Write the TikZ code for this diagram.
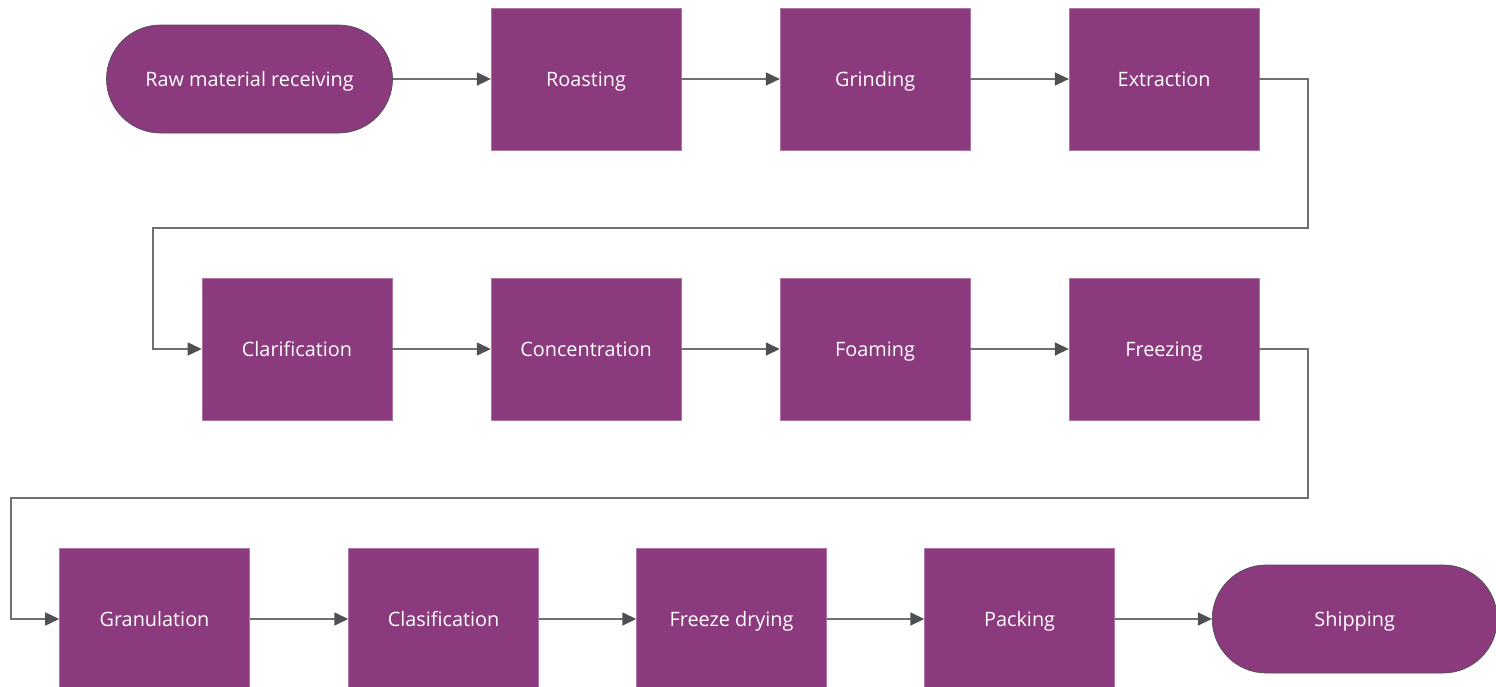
\documentclass[tikz,border=0pt]{standalone}
\usepackage{fontspec}
\setmainfont{Open Sans}
\usepackage{xcolor}
\usetikzlibrary{arrows.meta, positioning}
\definecolor{plum}{RGB}{140,58,126}
\definecolor{linegray}{RGB}{112,112,112}
\definecolor{tipgray}{RGB}{80,80,84}
\tikzstyle{terminal} = [rectangle, rounded corners=1.08cm, minimum width=5.72cm, minimum height=2.16cm, text centered, text height=1.85ex, text depth=0.35ex, draw=tipgray, fill=plum, text=white]
\tikzstyle{process} = [rectangle, minimum width=3.8cm, minimum height=2.84cm, text centered, text height=1.85ex, text depth=0.35ex, draw=plum!70!white, line width=0.3pt, fill=plum, text=white]
\tikzstyle{arrow} = [line width=0.9pt, draw=linegray, -{Triangle[length=0.28cm, width=0.26cm, color=tipgray, fill=tipgray]}]

\begin{document}
\begin{tikzpicture}[node distance=1.97cm, font=\fontsize{11.3}{13}\selectfont]
\useasboundingbox (0,0) rectangle (29.92,-13.74);

% First row
\node (receiving) [terminal] at (4.99,-1.58) {Raw material receiving};
\node (roasting) [process, right=1.96cm of receiving] {Roasting};
\node (grinding) [process, right=of roasting] {Grinding};
\node (extraction) [process, right=of grinding] {Extraction};

% Second row
\node (clarification) [process] at (5.94,-6.98) {Clarification};
\node (concentration) [process, right=of clarification] {Concentration};
\node (foaming) [process, right=of concentration] {Foaming};
\node (freezing) [process, right=of foaming] {Freezing};

% Third row
\node (granulation) [process] at (3.09,-12.38) {Granulation};
\node (clasification) [process, right=1.97cm of granulation] {Clasification};
\node (freeze-drying) [process, right=1.95cm of clasification] {Freeze drying};
\node (packing) [process, right=1.95cm of freeze-drying] {Packing};
\node (shipping) [terminal, minimum width=5.7cm, right=1.94cm of packing] {Shipping};

% Bends between rows
\coordinate (bend-a) at (26.16,-4.56);
\coordinate (bend-b) at (3.06,-4.56);
\coordinate (bend-c) at (26.16,-9.96);
\coordinate (bend-d) at (0.22,-9.96);

% Arrows
\draw [arrow] (receiving) -- (roasting);
\draw [arrow] (roasting) -- (grinding);
\draw [arrow] (grinding) -- (extraction);
\draw [arrow] (extraction.east) -| (bend-a) -- (bend-b) |- (clarification.west);
\draw [arrow] (clarification) -- (concentration);
\draw [arrow] (concentration) -- (foaming);
\draw [arrow] (foaming) -- (freezing);
\draw [arrow] (freezing.east) -| (bend-c) -- (bend-d) |- (granulation.west);
\draw [arrow] (granulation) -- (clasification);
\draw [arrow] (clasification) -- (freeze-drying);
\draw [arrow] (freeze-drying) -- (packing);
\draw [arrow] (packing) -- (shipping);

\end{tikzpicture}
\end{document}
